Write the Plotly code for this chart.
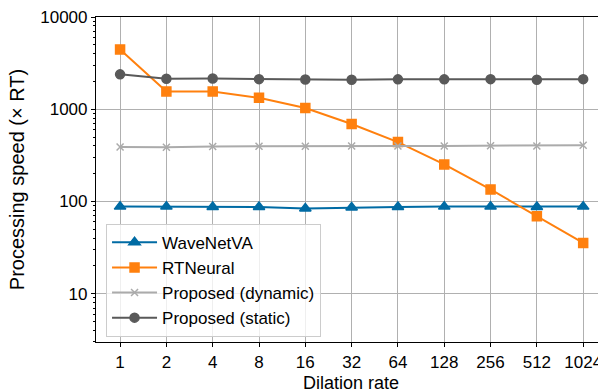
import plotly.graph_objects as go

dilation = ["1", "2", "4", "8", "16", "32", "64", "128", "256", "512", "1024"]
wavenetva = [88, 88, 87, 87, 84, 86, 87, 88, 88, 87, 88]
rtneural = [4450, 1560, 1560, 1330, 1030, 692, 441, 252, 135, 69, 35.6]
proposed_dynamic = [390, 388, 395, 398, 398, 400, 400, 400, 403, 400, 408]
proposed_static = [2390, 2140, 2150, 2120, 2100, 2090, 2110, 2110, 2120, 2090, 2120]

FONT = "Liberation Sans, Arial, sans-serif"
fig = go.Figure()
series = [
    ("WaveNetVA", wavenetva, "#006BA4", "triangle-up", 10),
    ("RTNeural", rtneural, "#FF800E", "square", 9),
    ("Proposed (dynamic)", proposed_dynamic, "#ABABAB", "x-thin-open", 7),
    ("Proposed (static)", proposed_static, "#595959", "circle", 9),
]
for name, vals, col, sym, sz in series:
    fig.add_trace(go.Scatter(
        x=list(range(len(dilation))), y=vals, name=name, mode="lines+markers",
        line=dict(color=col, width=2),
        marker=dict(symbol=sym, size=sz, color=col, line=dict(color=col, width=1.5)),
    ))

fig.update_layout(
    width=598, height=391,
    margin=dict(l=96, r=0, t=17, b=49, autoexpand=False),
    paper_bgcolor="white", plot_bgcolor="white",
    font=dict(family=FONT, size=17, color="black"),
    showlegend=True,
    legend=dict(x=0.02, y=0.016, xanchor="left", yanchor="bottom",
                bgcolor="rgba(255,255,255,0.8)", bordercolor="#cccccc", borderwidth=1,
                itemwidth=45, font=dict(size=17)),
    xaxis=dict(
        tickmode="array", tickvals=list(range(len(dilation))), ticktext=dilation,
        range=[-0.52, 10.32], showgrid=True, gridcolor="#b0b0b0", gridwidth=1,
        showline=True, linecolor="black", linewidth=1.2, mirror=True,
        ticks="outside", ticklen=4, tickcolor="black", zeroline=False,
        automargin=False, ticklabeloverflow="allow",
    ),
    yaxis=dict(
        type="log", range=[0.477, 4.0],
        tickvals=[10, 100, 1000, 10000], ticktext=["10", "100", "1000", "10000"],
        showgrid=True, gridcolor="#b0b0b0", gridwidth=1,
        showline=True, linecolor="black", linewidth=1.2,
        ticks="outside", ticklen=4, tickcolor="black", zeroline=False,
        automargin=False,
        minor=dict(ticks="outside", ticklen=2, tickcolor="black", showgrid=False,
                   tickvals=[v * m for v in [1, 10, 100, 1000] for m in range(2, 10)]),
        title=dict(text="Processing speed (× RT)", standoff=10),
    ),
    annotations=[dict(text="Dilation rate", xref="paper", yref="paper",
                      x=0.508, y=-0.126, xanchor="center", yanchor="middle",
                      showarrow=False, font=dict(size=18))],
)
fig.write_html("out.html", config={"displayModeBar": False},
               post_script="document.body.style.margin='0';document.body.style.overflow='hidden';")
